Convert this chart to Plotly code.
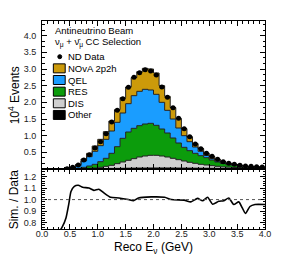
import numpy as np
import plotly.graph_objects as go

# ---------------- data (units of 10^4 events per 0.1 GeV bin) ----------------
bin_edges = [round(0.1 * i, 1) for i in range(41)]
bin_centers = [round(e + 0.05, 2) for e in bin_edges[:-1]]

nd_data = [None, None, None, None, 0.01, 0.05, 0.12, 0.27, 0.43, 0.63,
           0.82, 1.06, 1.41, 1.76, 2.11, 2.45, 2.75, 2.89, 2.98, 2.94,
           2.82, 2.46, 2.15, 1.84, 1.52, 1.21, 0.97, 0.75, 0.61, 0.47,
           0.38, 0.29, 0.22, 0.17, 0.14, 0.11, 0.09, 0.08, 0.07, 0.06]

other = [0, 0, 0, 0, 0.001, 0.002, 0.004, 0.006, 0.008, 0.010,
         0.012, 0.015, 0.018, 0.020, 0.022, 0.025, 0.027, 0.030, 0.030, 0.032,
         0.032, 0.032, 0.032, 0.030, 0.030, 0.028, 0.027, 0.025, 0.024, 0.023,
         0.022, 0.021, 0.020, 0.020, 0.019, 0.018, 0.017, 0.016, 0.015, 0.014]

dis = [0, 0, 0, 0, 0, 0.001, 0.002, 0.004, 0.012, 0.020,
       0.038, 0.065, 0.092, 0.140, 0.188, 0.235, 0.283, 0.330, 0.360, 0.378,
       0.378, 0.358, 0.328, 0.290, 0.250, 0.212, 0.173, 0.145, 0.116, 0.097,
       0.078, 0.059, 0.045, 0.035, 0.026, 0.022, 0.018, 0.014, 0.013, 0.011]

res = [0, 0, 0, 0, 0.001, 0.005, 0.014, 0.040, 0.070, 0.110,
       0.170, 0.240, 0.360, 0.510, 0.710, 0.850, 0.910, 0.940, 0.960, 0.960,
       0.900, 0.810, 0.720, 0.610, 0.500, 0.410, 0.350, 0.300, 0.260, 0.220,
       0.170, 0.130, 0.100, 0.075, 0.060, 0.045, 0.030, 0.027, 0.022, 0.019]

qel = [0, 0, 0, 0.001, 0.005, 0.032, 0.080, 0.190, 0.280, 0.390,
       0.480, 0.570, 0.670, 0.730, 0.760, 0.850, 0.980, 1.030, 1.040, 1.000,
       0.930, 0.800, 0.680, 0.570, 0.450, 0.350, 0.270, 0.190, 0.130, 0.070,
       0.040, 0.030, 0.020, 0.015, 0.015, 0.010, 0.010, 0.008, 0.007, 0.006]

mec_2p2h = [0, 0, 0, 0.001, 0.004, 0.015, 0.035, 0.060, 0.100, 0.160,
            0.190, 0.230, 0.300, 0.380, 0.460, 0.500, 0.540, 0.590, 0.630, 0.630,
            0.640, 0.500, 0.420, 0.340, 0.280, 0.210, 0.140, 0.100, 0.080, 0.060,
            0.060, 0.050, 0.035, 0.025, 0.020, 0.015, 0.010, 0.010, 0.009, 0.008]

ratio_x = [0.0, 0.30, 0.37, 0.43, 0.48, 0.52, 0.58, 0.65, 0.73, 0.84,
           0.93, 1.02, 1.11, 1.23, 1.38, 1.55, 1.64, 1.73, 1.96, 2.20,
           2.32, 2.55, 2.67, 2.79, 2.88, 2.97, 3.06, 3.17, 3.26, 3.35,
           3.44, 3.53, 3.59, 3.65, 3.73, 3.82, 4.0]
ratio_y = [0.70, 0.72, 0.77, 0.84, 0.96, 1.07, 1.115, 1.124, 1.107, 1.10,
           1.08, 1.09, 1.058, 1.02, 1.014, 1.0, 0.99, 1.014, 1.023, 1.02,
           1.0, 0.995, 0.98, 1.01, 0.99, 1.02, 0.96, 0.985, 0.99, 1.014,
           0.957, 0.98, 0.93, 0.88, 0.94, 0.957, 0.957]
ratio_ref = 1.0

components = [("Other", other, "#000000"),
              ("DIS", dis, "#cfcfcf"),
              ("RES", res, "#0c9c0c"),
              ("QEL", qel, "#1a9dff"),
              ("NOvA 2p2h", mec_2p2h, "#cc9a0a")]

header_lines = ["Antineutrino Beam",
                "ν<sub>μ</sub> + ν̄<sub>μ</sub> CC Selection"]

FONT = "Liberation Sans, Arial, sans-serif"

# ---------------- figure ----------------
fig = go.Figure()

cum = np.zeros(len(bin_centers))
for i, (name, vals, col) in enumerate(components):
    cum = cum + np.array(vals, dtype=float)
    ys = list(cum) + [cum[-1]]
    fig.add_trace(go.Scatter(
        x=bin_edges, y=ys, mode="lines", line=dict(shape="hv", color="#222", width=1),
        fill="tozeroy" if i == 0 else "tonexty", fillcolor=col,
        showlegend=False, xaxis="x", yaxis="y", hoverinfo="skip"))

fig.add_trace(go.Scatter(
    x=bin_centers, y=nd_data, mode="markers",
    marker=dict(color="black", size=5),
    error_x=dict(type="constant", value=0.05, thickness=1, width=0, color="black"),
    showlegend=False, xaxis="x", yaxis="y"))

fig.add_trace(go.Scatter(
    x=ratio_x, y=ratio_y, mode="lines",
    line=dict(color="black", width=1.6, shape="spline", smoothing=0.6),
    showlegend=False, xaxis="x2", yaxis="y2"))

fig.add_shape(type="line", xref="x2", yref="y2", x0=0, x1=4, y0=ratio_ref, y1=ratio_ref,
              line=dict(color="#555", width=1, dash="dot"))

# pixel helpers for layout decorations (legend)
L, R, T, B, W, H = 42, 15, 21, 31, 283, 260
pw, ph = W - L - R, H - T - B
def px(xp):
    return (xp - L) / pw
def py(yp):
    return (H - B - yp) / ph

annotations = []
for j, txt in enumerate(header_lines):
    annotations.append(dict(text=txt, xref="paper", yref="paper", x=px(53), y=py(30.5 + 11.8 * j),
                            xanchor="left", yanchor="middle", showarrow=False,
                            font=dict(family=FONT, size=9.5, color="black")))

leg_y0 = 56.7
leg_dy = 11.65
shapes = []
# ND Data entry
shapes.append(dict(type="line", xref="paper", yref="paper", x0=px(54), x1=px(66),
                   y0=py(leg_y0), y1=py(leg_y0), line=dict(color="black", width=1.2)))
shapes.append(dict(type="circle", xref="paper", yref="paper", x0=px(58), x1=px(62),
                   y0=py(leg_y0 + 2), y1=py(leg_y0 - 2), fillcolor="black",
                   line=dict(color="black", width=1)))
annotations.append(dict(text="ND Data", xref="paper", yref="paper", x=px(66.5), y=py(leg_y0),
                        xanchor="left", yanchor="middle", showarrow=False,
                        font=dict(family=FONT, size=9.5, color="black")))
for k, (name, vals, col) in enumerate(reversed(components)):
    yc = leg_y0 + leg_dy * (k + 1)
    shapes.append(dict(type="rect", xref="paper", yref="paper", x0=px(53.5), x1=px(65.5),
                       y0=py(yc + 4.5), y1=py(yc - 4.5), fillcolor=col,
                       line=dict(color="black", width=1)))
    annotations.append(dict(text=name, xref="paper", yref="paper", x=px(66.5), y=py(yc),
                            xanchor="left", yanchor="middle", showarrow=False,
                            font=dict(family=FONT, size=9.5, color="black")))

# axis titles
annotations.append(dict(text="10<sup>4</sup> Events", xref="paper", yref="paper",
                        x=px(14), y=py(95), textangle=-90, showarrow=False,
                        xanchor="center", yanchor="middle",
                        font=dict(family=FONT, size=12, color="black")))
annotations.append(dict(text="Sim. / Data", xref="paper", yref="paper",
                        x=px(14), y=py(199), textangle=-90, showarrow=False,
                        xanchor="center", yanchor="middle",
                        font=dict(family=FONT, size=12, color="black")))
annotations.append(dict(text="Reco E<sub>ν</sub> (GeV)", xref="paper", yref="paper",
                        x=0.5, y=py(248), showarrow=False,
                        xanchor="center", yanchor="middle",
                        font=dict(family=FONT, size=12, color="black")))

split = 60 / ph
axis_common = dict(showline=True, linecolor="black", linewidth=1, mirror="allticks",
                   ticks="inside", tickcolor="black", ticklen=5, tickwidth=1,
                   showgrid=False, zeroline=False,
                   tickfont=dict(family=FONT, size=9, color="#222"))

fig.update_layout(
    width=W, height=H,
    margin=dict(l=L, r=R, t=T, b=B, pad=0),
    paper_bgcolor="white", plot_bgcolor="white",
    showlegend=False,
    xaxis=dict(domain=[0, 1], range=[0, 4], anchor="y", dtick=0.5, tick0=0,
               showticklabels=False,
               minor=dict(ticks="inside", dtick=0.1, ticklen=2.5, tickcolor="black"),
               **axis_common),
    yaxis=dict(domain=[split, 1], range=[0, 4.44], anchor="x",
               tickvals=[0.5, 1.0, 1.5, 2.0, 2.5, 3.0, 3.5, 4.0], tickformat=".1f",
               ticklabelstandoff=3,
               minor=dict(ticks="inside", dtick=0.5 / 3, tick0=0, ticklen=2.5, tickcolor="black"),
               **axis_common),
    xaxis2=dict(domain=[0, 1], range=[0, 4], anchor="y2", dtick=0.5, tick0=0, tickformat=".1f",
                ticklabelstandoff=-4,
                minor=dict(ticks="inside", dtick=0.1, ticklen=2.5, tickcolor="black"),
                **axis_common),
    yaxis2=dict(domain=[0, split], range=[0.745, 1.265], anchor="x2",
                tickvals=[0.8, 0.9, 1.0, 1.1, 1.2], tickformat=".1f",
                ticklabelstandoff=3,
                minor=dict(ticks="inside", dtick=0.02, tick0=0.8, ticklen=2.5, tickcolor="black"),
                **axis_common),
    shapes=shapes,
    annotations=annotations,
)

fig.write_html("out.html", config={"displayModeBar": False},
               post_script="document.body.style.margin='0';document.body.style.overflow='hidden';")
